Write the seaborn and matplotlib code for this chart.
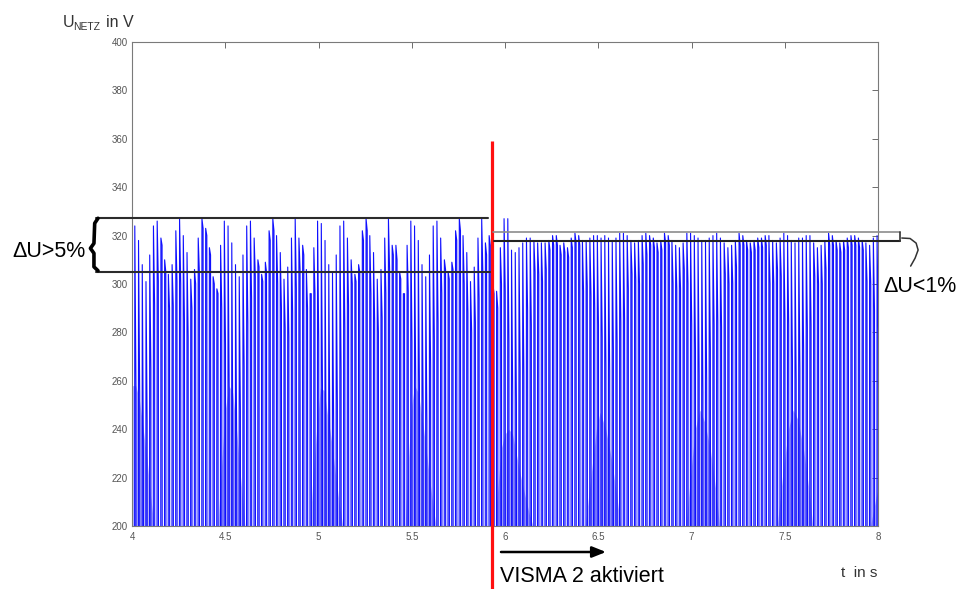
import numpy as np
import pandas as pd
import matplotlib
matplotlib.use("Agg")
import matplotlib.pyplot as plt
from matplotlib import font_manager as fm
import seaborn as sns

# ---------------- data ----------------
# upper sample (top of each 50 Hz spike) and second sample of each spike, in V
hi_before = [324, 318, 308, 301, 312, 324, 326, 319, 310, 304,
             308, 322, 327, 320, 313, 302, 306, 319, 327, 323,
             315, 303, 298, 316, 326, 324, 317, 308, 303, 312,
             324, 326, 319, 310, 304, 309, 322, 327, 320, 313,
             302, 307, 319, 327, 319, 316, 306, 296, 315, 326,
             325, 318, 308, 305, 312, 324, 326, 319, 310, 304,
             308, 322, 327, 320, 313, 302, 306, 319, 327, 316,
             316, 305, 296, 316, 326, 324, 318, 308, 303, 312,
             324, 326, 319, 310, 305, 309, 322, 327, 320, 313,
             301, 307, 319, 327, 317, 320]
lo_before = [258, 254, 229, 243, 265, 291, 301, 316, 305, 290,
             291, 301, 300, 285, 278, 290, 300, 305, 323, 320,
             312, 300, 296, 290, 275, 256, 230, 236, 248, 266,
             284, 294, 303, 307, 301, 305, 318, 322, 300, 290,
             282, 278, 288, 298, 306, 312, 290, 296, 296, 276,
             258, 228, 233, 242, 250, 264, 282, 291, 300, 301,
             305, 318, 322, 296, 284, 280, 286, 296, 306, 312,
             310, 302, 296, 297, 276, 260, 258, 250, 243, 266,
             277, 284, 296, 306, 302, 306, 318, 322, 300, 288,
             280, 284, 294, 305, 312, 316]
hi_after = [300, 297, 315, 327, 327, 314, 313, 315, 317, 319,
            319, 318, 317, 317, 317, 318, 320, 320, 316, 317,
            315, 319, 321, 320, 318, 318, 319, 320, 320, 319,
            320, 319, 318, 319, 321, 321, 320, 318, 317, 318,
            320, 321, 320, 319, 317, 318, 321, 320, 318, 316,
            315, 317, 321, 321, 320, 319, 318, 318, 319, 320,
            321, 319, 317, 315, 316, 318, 321, 320, 318, 317,
            318, 319, 319, 320, 320, 318, 317, 319, 321, 320,
            318, 317, 319, 319, 320, 320, 317, 315, 316, 318,
            321, 320, 318, 317, 318, 319, 320, 320, 319, 318,
            317, 316, 319, 320]
lo_after = [296, 290, 300, 297, 276, 255, 251, 265, 262, 289,
            283, 305, 304, 301, 306, 314, 316, 316, 312, 313,
            311, 315, 317, 316, 297, 299, 295, 290, 283, 278,
            266, 264, 273, 276, 284, 285, 298, 304, 302, 300,
            308, 312, 316, 315, 313, 314, 317, 316, 300, 298,
            298, 306, 300, 283, 273, 262, 255, 260, 273, 283,
            284, 282, 304, 300, 300, 307, 316, 316, 314, 313,
            314, 315, 315, 316, 300, 300, 306, 303, 285, 283,
            268, 260, 265, 272, 282, 283, 303, 300, 300, 306,
            316, 316, 314, 313, 314, 315, 316, 316, 315, 314,
            301, 300, 289, 280]
spike_t0 = 4.015      # s, first spike
spike_dt = 0.02       # s, 50 Hz
u_trough = -320.0     # negative half wave (outside the view)

# light "mountains" at the bottom (beat nodes): time (s), voltage (V)
mountains = [
    ([4.0, 4.02, 4.04, 4.06, 4.08, 4.10, 4.118], [258, 258, 252, 240, 228, 212, 200]),
    ([4.46, 4.48, 4.50, 4.52, 4.54, 4.56, 4.58, 4.60, 4.606], [200, 225, 248, 258, 255, 240, 222, 205, 200]),
    ([4.955, 4.97, 4.99, 5.01, 5.03, 5.05, 5.07, 5.09, 5.11, 5.13], [200, 220, 240, 257, 256, 245, 235, 222, 210, 200]),
    ([5.465, 5.48, 5.50, 5.515, 5.535, 5.555, 5.575, 5.595, 5.615, 5.63], [200, 225, 250, 258, 255, 245, 233, 220, 208, 200]),
    ([5.95, 5.98, 6.00, 6.02, 6.04, 6.06, 6.08, 6.10, 6.13, 6.15], [205, 232, 238, 240, 238, 230, 222, 215, 205, 200]),
    ([6.43, 6.46, 6.49, 6.51, 6.54, 6.57, 6.60, 6.62], [200, 220, 240, 247, 240, 228, 212, 200]),
    ([6.97, 7.00, 7.02, 7.045, 7.07, 7.10, 7.13, 7.15], [200, 225, 240, 248, 243, 232, 215, 200]),
    ([7.46, 7.49, 7.52, 7.545, 7.57, 7.60, 7.63, 7.65], [200, 222, 240, 248, 244, 232, 215, 200]),
    ([7.96, 7.99, 8.0], [200, 212, 215]),
]

x_ticks = [4, 4.5, 5, 5.5, 6, 6.5, 7, 7.5, 8]
x_labels = ["4", "4.5", "5", "5.5", "6", "6.5", "7", "7.5", "8"]
y_ticks = [200, 220, 240, 260, 280, 300, 320, 340, 360, 380, 400]
y_labels = [str(v) for v in y_ticks]

t_activation = 5.93
box_left_u = (305.0, 327.3)
box_right_u = (317.8, 321.6)

# ---------------- figure ----------------
sns.set_theme(style="white")
plt.rcParams['font.family'] = ['Liberation Sans', 'DejaVu Sans']

try:
    fm.findfont('Liberation Sans Narrow', fallback_to_default=False)
    big_family = ['Liberation Sans Narrow', 'DejaVu Sans']
    big_size = 18.5
except Exception:
    big_family = ['Liberation Sans', 'DejaVu Sans']
    big_size = 15.5

W, H = 959, 589
fig = plt.figure(figsize=(W / 100, H / 100), dpi=100)
fig.patch.set_facecolor('white')
ax = fig.add_axes([132 / W, 1 - 526 / H, (878 - 132) / W, (526 - 42) / H])

def fx(px):
    return px / W

def fy(py):
    return 1 - py / H

hi = np.array(hi_before + hi_after, float)
lo = np.array(lo_before + lo_after, float)
n = len(hi)
tk = spike_t0 + spike_dt * np.arange(n)
ts = np.column_stack([tk - 0.004, tk, tk + 0.0062, tk + 0.0102]).ravel()
us = np.column_stack([np.full(n, u_trough), hi, lo, np.full(n, u_trough)]).ravel()
df = pd.DataFrame({"t": ts, "u": us})

for mt, mu in mountains:
    ax.fill_between(mt, 200, mu, color='#b6b6f8', lw=0, zorder=1)

sns.lineplot(data=df, x="t", y="u", estimator=None, sort=False,
             color='#1010ff', linewidth=0.8, ax=ax, zorder=2)

ax.set_xlim(4, 8)
ax.set_ylim(200, 400)
ax.set_xlabel('')
ax.set_ylabel('')
ax.set_xticks(x_ticks)
ax.set_xticklabels(x_labels)
ax.set_yticks(y_ticks)
ax.set_yticklabels(y_labels)
ax.tick_params(axis='both', direction='in', top=True, right=True, length=4,
               width=0.6, color='#555555', labelsize=7, labelcolor='#555555')
ax.tick_params(axis='x', pad=4)
ax.tick_params(axis='y', pad=3)
for s in ax.spines.values():
    s.set_color('#7a7a7a')
    s.set_linewidth(0.8)

# axis titles (MATLAB style)
fig.text(fx(63), fy(27), 'U', fontsize=11.5, color='#333333', va='baseline')
fig.text(fx(73), fy(30.5), 'NETZ', fontsize=7.5, color='#333333', va='baseline')
fig.text(fx(106), fy(27), 'in V', fontsize=11.5, color='#333333', va='baseline')
fig.text(fx(841), fy(577), 't  in s', fontsize=11, color='#333333', va='baseline')

# red activation line
ax.plot([t_activation, t_activation], [359.1, 174], color='#ff1010', lw=2.3,
        clip_on=False, zorder=6, solid_capstyle='butt')

# left box (> 5 %)
ax.plot([3.809, 5.908], [box_left_u[1]] * 2, color='#2b2b2b', lw=1.5, clip_on=False, zorder=7)
ax.plot([3.809, 5.919], [box_left_u[0]] * 2, color='#2b2b2b', lw=1.5, clip_on=False, zorder=7)
brace_t = [3.8176, 3.800, 3.796, 3.777, 3.796, 3.796, 3.8176]
brace_u = [327.15, 325.1, 316.8, 314.75, 312.7, 307.1, 305.5]
ax.plot(brace_t, brace_u, color='black', lw=2.6, clip_on=False, zorder=7,
        solid_joinstyle='round', solid_capstyle='round')

# right box (< 1 %)
ax.plot([5.935, 8.118], [box_right_u[1]] * 2, color='#8c8c8c', lw=1.2, clip_on=False, zorder=7)
ax.plot([5.94, 8.118], [box_right_u[0]] * 2, color='#222222', lw=1.5, clip_on=False, zorder=7)
ax.plot([8.118, 8.118], list(box_right_u), color='#333333', lw=1.2, clip_on=False, zorder=7)
curve_t = [8.1277, 8.1722, 8.2044, 8.2151, 8.199, 8.175]
curve_u = [319.0, 318.8, 316.9, 314.05, 310.7, 307.4]
ax.plot(curve_t, curve_u, color='#333333', lw=1.1, clip_on=False, zorder=7)

# texts
fig.text(fx(12), fy(257), 'ΔU>5%', fontsize=big_size, family=big_family, color='black', va='baseline')
fig.text(fx(883), fy(292), 'ΔU<1%', fontsize=big_size, family=big_family, color='black', va='baseline')
fig.text(fx(500), fy(582), 'VISMA 2 aktiviert', fontsize=big_size, family=big_family,
         color='black', va='baseline')

# arrow
ax.annotate('', xy=(606, H - 552), xycoords='figure pixels',
            xytext=(501, H - 552), textcoords='figure pixels',
            arrowprops=dict(arrowstyle='-|>,head_length=0.55,head_width=0.22',
                            color='black', lw=1.8, mutation_scale=15,
                            shrinkA=0, shrinkB=0),
            annotation_clip=False)

fig.savefig('out.png', dpi=100, facecolor='white')
